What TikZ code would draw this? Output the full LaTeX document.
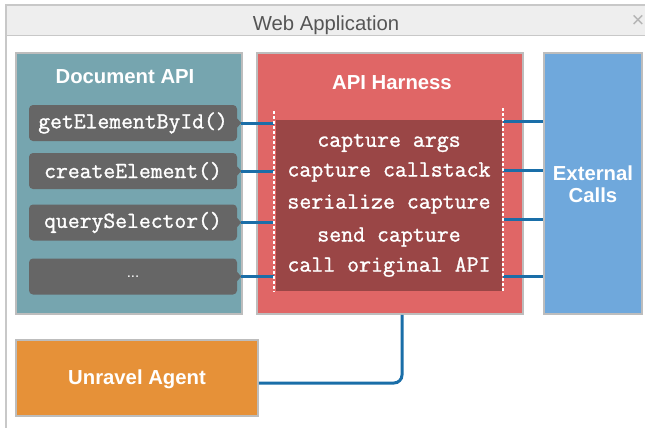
\documentclass[tikz,border=0pt]{standalone}
\usepackage{fontspec}
\setmainfont{Liberation Sans}
\newfontfamily\monof[FakeBold=1.2]{Latin Modern Mono}
\definecolor{framec}{HTML}{C8C8C8}
\definecolor{titlec}{HTML}{EEEEEE}
\definecolor{titletextc}{HTML}{555555}
\definecolor{closec}{HTML}{B4B4B4}
\definecolor{panelborder}{HTML}{BDBDBD}
\definecolor{tealc}{HTML}{76A5AF}
\definecolor{harnessc}{HTML}{E06666}
\definecolor{innerc}{HTML}{9A4646}
\definecolor{extc}{HTML}{6FA8DC}
\definecolor{agentc}{HTML}{E69138}
\definecolor{btnc}{HTML}{666666}
\definecolor{connc}{HTML}{1A6EA8}
\tikzset{
  panel/.style={draw=panelborder, line width=1.5pt, inner sep=0pt},
  heading/.style={text=white, font=\bfseries\fontsize{20.3}{23}\selectfont, align=center},
  btn/.style={fill=btnc, rounded corners=4pt, minimum width=208pt, minimum height=36pt, inner sep=0pt,
              text=white, font=\monof\fontsize{23}{26}\selectfont},
  codeline/.style={text=white, font=\monof\fontsize{23.2}{26}\selectfont, inner sep=0pt},
  conn/.style={draw=connc, line width=3pt},
  dots/.style={draw=white, line width=2.5pt, dash pattern=on 3pt off 2pt}
}
\begin{document}
\begin{tikzpicture}[x=1pt,y=-1pt]
\useasboundingbox (0,0) rectangle (645,428);
\fill[white] (0,0) rectangle (645,428);
% window frame
\fill[titlec] (6,5) rectangle (650,35.5);
\draw[framec, line width=1.6pt] (6,432) -- (6,5) -- (650,5);
\draw[framec, line width=1.6pt] (6,35.5) -- (650,35.5);
\node[text=titletextc, font=\fontsize{20.3}{24}\selectfont] (wintitle) at (326,25) {Web Application};
\node[text=closec, font=\fontsize{22}{24}\selectfont] (close) at (638,21) {×};
% panels
\node[panel, fill=tealc, minimum width=226pt, minimum height=261pt] (docapi) at (129,183.5) {};
\node[panel, fill=harnessc, minimum width=266pt, minimum height=261pt] (harness) at (390,183.5) {};
\node[panel, fill=extc, minimum width=98pt, minimum height=261pt] (ext) at (593,183.5) {};
\node[panel, fill=agentc, minimum width=242pt, minimum height=76pt] (agent) at (137,378) {};
% headings
\node[heading] (docapititle) at (125,77) {Document API};
\node[heading] (harnesstitle) at (392,83) {API Harness};
\node[heading] (exttitle) at (593,184) {External\\[-1pt]Calls};
\node[heading] (agenttitle) at (137,379) {Unravel Agent};
% inner box
\node[fill=innerc, minimum width=226pt, minimum height=171pt, inner sep=0pt] (inner) at (389,205.5) {};
% buttons
\node[btn] (b1) at (133,123) {getElementById()};
\node[btn] (b2) at (133,171) {createElement()};
\node[btn] (b3) at (133,222.5) {querySelector()};
\node[btn, font=\fontsize{15}{18}\selectfont] (b4) at (133,276.5) {...};
\foreach \b in {b1,b2,b3,b4}{
  \fill[btnc] ([yshift=4.5pt]\b.east) -- ([xshift=4pt]\b.east) -- ([yshift=-4.5pt]\b.east) -- cycle;
}
% code lines
\node[codeline] (c1) at (389,143) {capture args};
\node[codeline] (c2) at (389,172) {capture callstack};
\node[codeline] (c3) at (389,204) {serialize capture};
\node[codeline] (c4) at (389,237) {send capture};
\node[codeline] (c5) at (389,267) {call original API};
% dotted boundary coordinates
\coordinate (dlt) at (274,111);
\coordinate (dlb) at (274,292);
\coordinate (drt) at (503,108);
\coordinate (drb) at (503,292);
% left connectors
\foreach \b in {b1,b2,b3,b4}{
  \draw[conn] ([xshift=4pt]\b.east) -- (\b.east -| dlt);
}
% right connectors
\foreach \y/\n in {121/r1,170/r2,219/r3,276/r4}{
  \coordinate (\n) at (503,\y);
  \draw[conn] (\n) -- (\n -| ext.west);
}
% dotted lines
\draw[dots] (dlt) -- (dlb);
\draw[dots] (drt) -- (drb);
% bottom connector
\draw[conn, rounded corners=8pt] ([xshift=12pt]harness.south) |- ([yshift=-5pt]agent.east);
\end{tikzpicture}
\end{document}
